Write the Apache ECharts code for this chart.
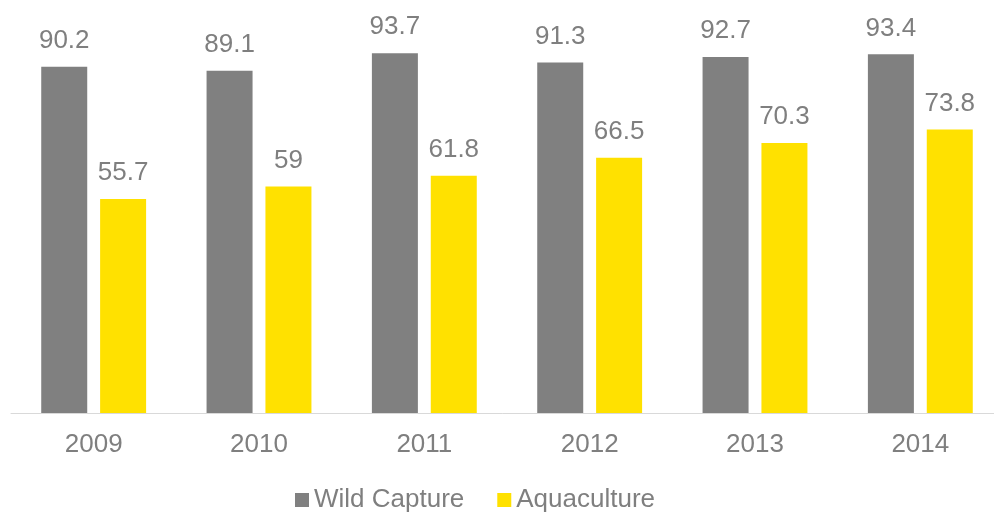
<!DOCTYPE html>
<html>
<head>
<meta charset="utf-8">
<style>
  html, body { margin: 0; padding: 0; background: #ffffff; }
  #chart { width: 994px; height: 512px; }
</style>
<script src="https://cdn.jsdelivr.net/npm/echarts@6/dist/echarts.min.js"></script>
</head>
<body>
<div id="chart"></div>
<script>
// Fish production by source, 2009–2014
const years = ['2009', '2010', '2011', '2012', '2013', '2014'];
const wildCapture = [90.2, 89.1, 93.7, 91.3, 92.7, 93.4];
const aquaculture = [55.7, 59, 61.8, 66.5, 70.3, 73.8];

const textColor = '#7f7f7f';
const fontFamily = '"Liberation Sans", Arial, sans-serif';

const chart = echarts.init(document.getElementById('chart'), null, { renderer: 'canvas' });

const labelStyle = {
  show: true,
  position: 'top',
  distance: 13,
  color: textColor,
  fontSize: 26,
  fontFamily: fontFamily
};

chart.setOption({
  animation: false,
  backgroundColor: '#ffffff',
  grid: {
    left: 11,
    top: 29,
    width: 992,
    height: 384,
    outerBoundsMode: 'none',
    containLabel: false
  },
  legend: {
    left: 290,
    top: 482,
    itemWidth: 14,
    itemHeight: 14,
    itemGap: 33,
    icon: 'rect',
    textStyle: { color: textColor, fontSize: 26, fontFamily: fontFamily },
    data: ['Wild Capture', 'Aquaculture']
  },
  xAxis: {
    type: 'category',
    data: years,
    axisLine: { lineStyle: { color: '#d9d9d9', width: 1 } },
    axisTick: { show: false },
    axisLabel: { color: textColor, fontSize: 26, fontFamily: fontFamily, margin: 19 }
  },
  yAxis: {
    type: 'value',
    min: 0,
    max: 100,
    show: false,
    splitLine: { show: false }
  },
  series: [
    {
      name: 'Wild Capture',
      type: 'bar',
      data: wildCapture,
      barWidth: 46,
      barGap: '28%',
      itemStyle: { color: '#808080' },
      label: labelStyle
    },
    {
      name: 'Aquaculture',
      type: 'bar',
      data: aquaculture,
      barWidth: 46,
      itemStyle: { color: '#ffe100' },
      label: labelStyle
    }
  ]
});
</script>
</body>
</html>
